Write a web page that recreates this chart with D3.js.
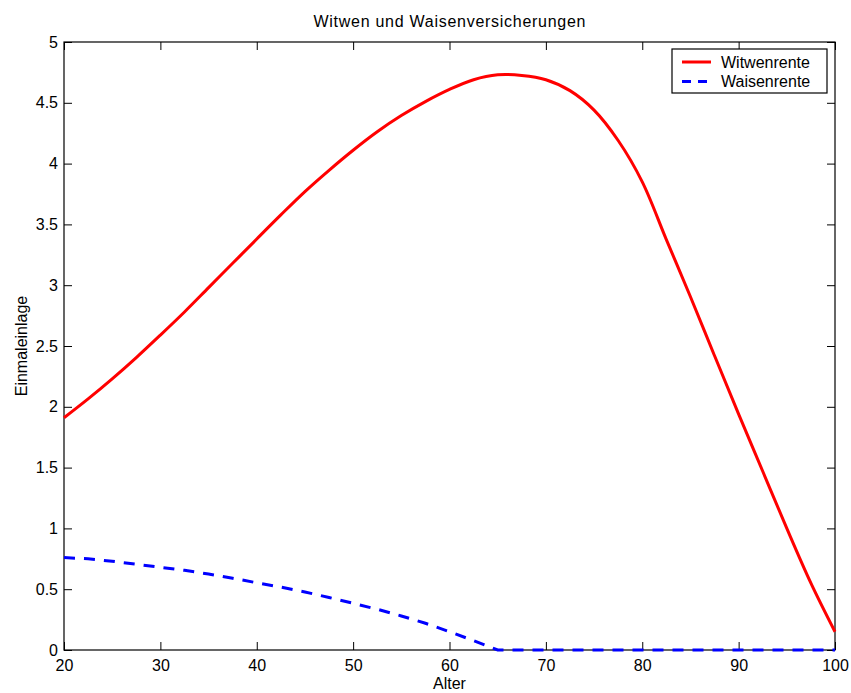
<!DOCTYPE html>
<html>
<head>
<meta charset="utf-8">
<script src="https://cdn.jsdelivr.net/npm/d3@7"></script>
<style>
  body { margin: 0; background: #fff; }
  svg { font-family: "Liberation Sans", Arial, sans-serif; }
</style>
</head>
<body>
<div id="chart"></div>
<script>
// data
var ages = [20, 22.5, 25, 27.5, 30, 32.5, 35, 37.5, 40, 42.5, 45, 47.5, 50, 52.5, 55, 57.5, 60,
            62.5, 65, 67.5, 70, 72.5, 75, 77.5, 80, 82.5, 85, 87.5, 90, 92.5, 95, 97.5, 100];
var witwen = [1.91, 2.065, 2.23, 2.405, 2.59, 2.78, 2.98, 3.18, 3.38, 3.578, 3.77, 3.945, 4.11, 4.262, 4.395, 4.51, 4.61,
              4.69, 4.73, 4.725, 4.69, 4.60, 4.44, 4.19, 3.85, 3.375, 2.905, 2.42, 1.94, 1.47, 1.00, 0.55, 0.15];
var waisen = [0.76, 0.75, 0.73, 0.705, 0.68, 0.655, 0.625, 0.59, 0.553, 0.517, 0.477, 0.432, 0.384, 0.335, 0.28, 0.22, 0.15,
              0.077, 0, 0, 0, 0, 0, 0, 0, 0, 0, 0, 0, 0, 0, 0, 0];
var xTicks = [20, 30, 40, 50, 60, 70, 80, 90, 100];
var yTicks = [0, 0.5, 1, 1.5, 2, 2.5, 3, 3.5, 4, 4.5, 5];
var seriesNames = ["Witwenrente", "Waisenrente"];

var svgWidth = 851, svgHeight = 693;
var margin = { top: 42, right: 16, bottom: 43, left: 64 };
var width = svgWidth - margin.left - margin.right;
var height = svgHeight - margin.top - margin.bottom;

var svg = d3.select("#chart").append("svg")
    .attr("width", svgWidth)
    .attr("height", svgHeight);

var chartGroup = svg.append("g")
    .attr("transform", `translate(${margin.left}, ${margin.top})`);

var xScale = d3.scaleLinear().domain([20, 100]).range([0, width]);
var yScale = d3.scaleLinear().domain([0, 5]).range([height, 0]);

var fmt = function (d) { return String(d); };

// axes, ticks pointing inwards on all four sides
chartGroup.append("g")
    .attr("transform", `translate(0, ${height})`)
    .call(d3.axisBottom(xScale).tickValues(xTicks).tickFormat(fmt).tickSizeInner(-8).tickSizeOuter(0).tickPadding(10));
chartGroup.append("g")
    .call(d3.axisLeft(yScale).tickValues(yTicks).tickFormat(fmt).tickSizeInner(-8).tickSizeOuter(0).tickPadding(6));
chartGroup.append("g")
    .call(d3.axisTop(xScale).tickValues(xTicks).tickFormat("").tickSizeInner(-8).tickSizeOuter(0));
chartGroup.append("g")
    .attr("transform", `translate(${width}, 0)`)
    .call(d3.axisRight(yScale).tickValues(yTicks).tickFormat("").tickSizeInner(-8).tickSizeOuter(0));

chartGroup.selectAll(".domain").remove();
chartGroup.selectAll(".tick line").attr("stroke", "#000");
chartGroup.selectAll(".tick text")
    .attr("font-size", "16px")
    .attr("font-family", "Liberation Sans, Arial, sans-serif")
    .attr("fill", "#000");

chartGroup.append("rect")
    .attr("width", width)
    .attr("height", height)
    .attr("fill", "none")
    .attr("stroke", "#000")
    .attr("stroke-width", 1.2);

// lines
var redLine = d3.line()
    .x(function (d, i) { return xScale(ages[i]); })
    .y(function (d) { return yScale(d); })
    .curve(d3.curveCatmullRom.alpha(0.5));

var blueLine = d3.line()
    .x(function (d, i) { return xScale(ages[i]); })
    .y(function (d) { return yScale(d); });

chartGroup.append("path")
    .datum(witwen)
    .attr("d", redLine)
    .attr("fill", "none")
    .attr("stroke", "#ff0000")
    .attr("stroke-width", 3);

chartGroup.append("path")
    .datum(waisen)
    .attr("d", blueLine)
    .attr("fill", "none")
    .attr("stroke", "#0000ff")
    .attr("stroke-width", 3)
    .attr("stroke-dasharray", "11,9");

// title and axis labels
svg.append("text")
    .attr("x", margin.left + width / 2)
    .attr("y", 27)
    .attr("text-anchor", "middle")
    .attr("font-size", "16px")
    .attr("textLength", 272)
    .attr("lengthAdjust", "spacing")
    .text("Witwen und Waisenversicherungen");

svg.append("text")
    .attr("x", margin.left + width / 2)
    .attr("y", 689)
    .attr("text-anchor", "middle")
    .attr("font-size", "16px")
    .text("Alter");

svg.append("text")
    .attr("transform", `translate(27, ${margin.top + height / 2}) rotate(-90)`)
    .attr("text-anchor", "middle")
    .attr("font-size", "16px")
    .text("Einmaleinlage");

// legend
var legend = svg.append("g").attr("transform", "translate(672, 49)");
legend.append("rect")
    .attr("width", 155)
    .attr("height", 44)
    .attr("fill", "#fff")
    .attr("stroke", "#000")
    .attr("stroke-width", 1.2);

var legendItems = legend.selectAll(".item")
    .data(seriesNames)
    .enter()
    .append("g")
    .attr("transform", function (d, i) { return `translate(0, ${13 + i * 19.5})`; });

legendItems.append("line")
    .attr("x1", 10).attr("x2", 39)
    .attr("stroke", function (d, i) { return i === 0 ? "#ff0000" : "#0000ff"; })
    .attr("stroke-width", 3)
    .attr("stroke-dasharray", function (d, i) { return i === 0 ? null : "9,7"; });

legendItems.append("text")
    .attr("x", 49)
    .attr("dy", "0.36em")
    .attr("font-size", "16px")
    .text(function (d) { return d; });
</script>
</body>
</html>
